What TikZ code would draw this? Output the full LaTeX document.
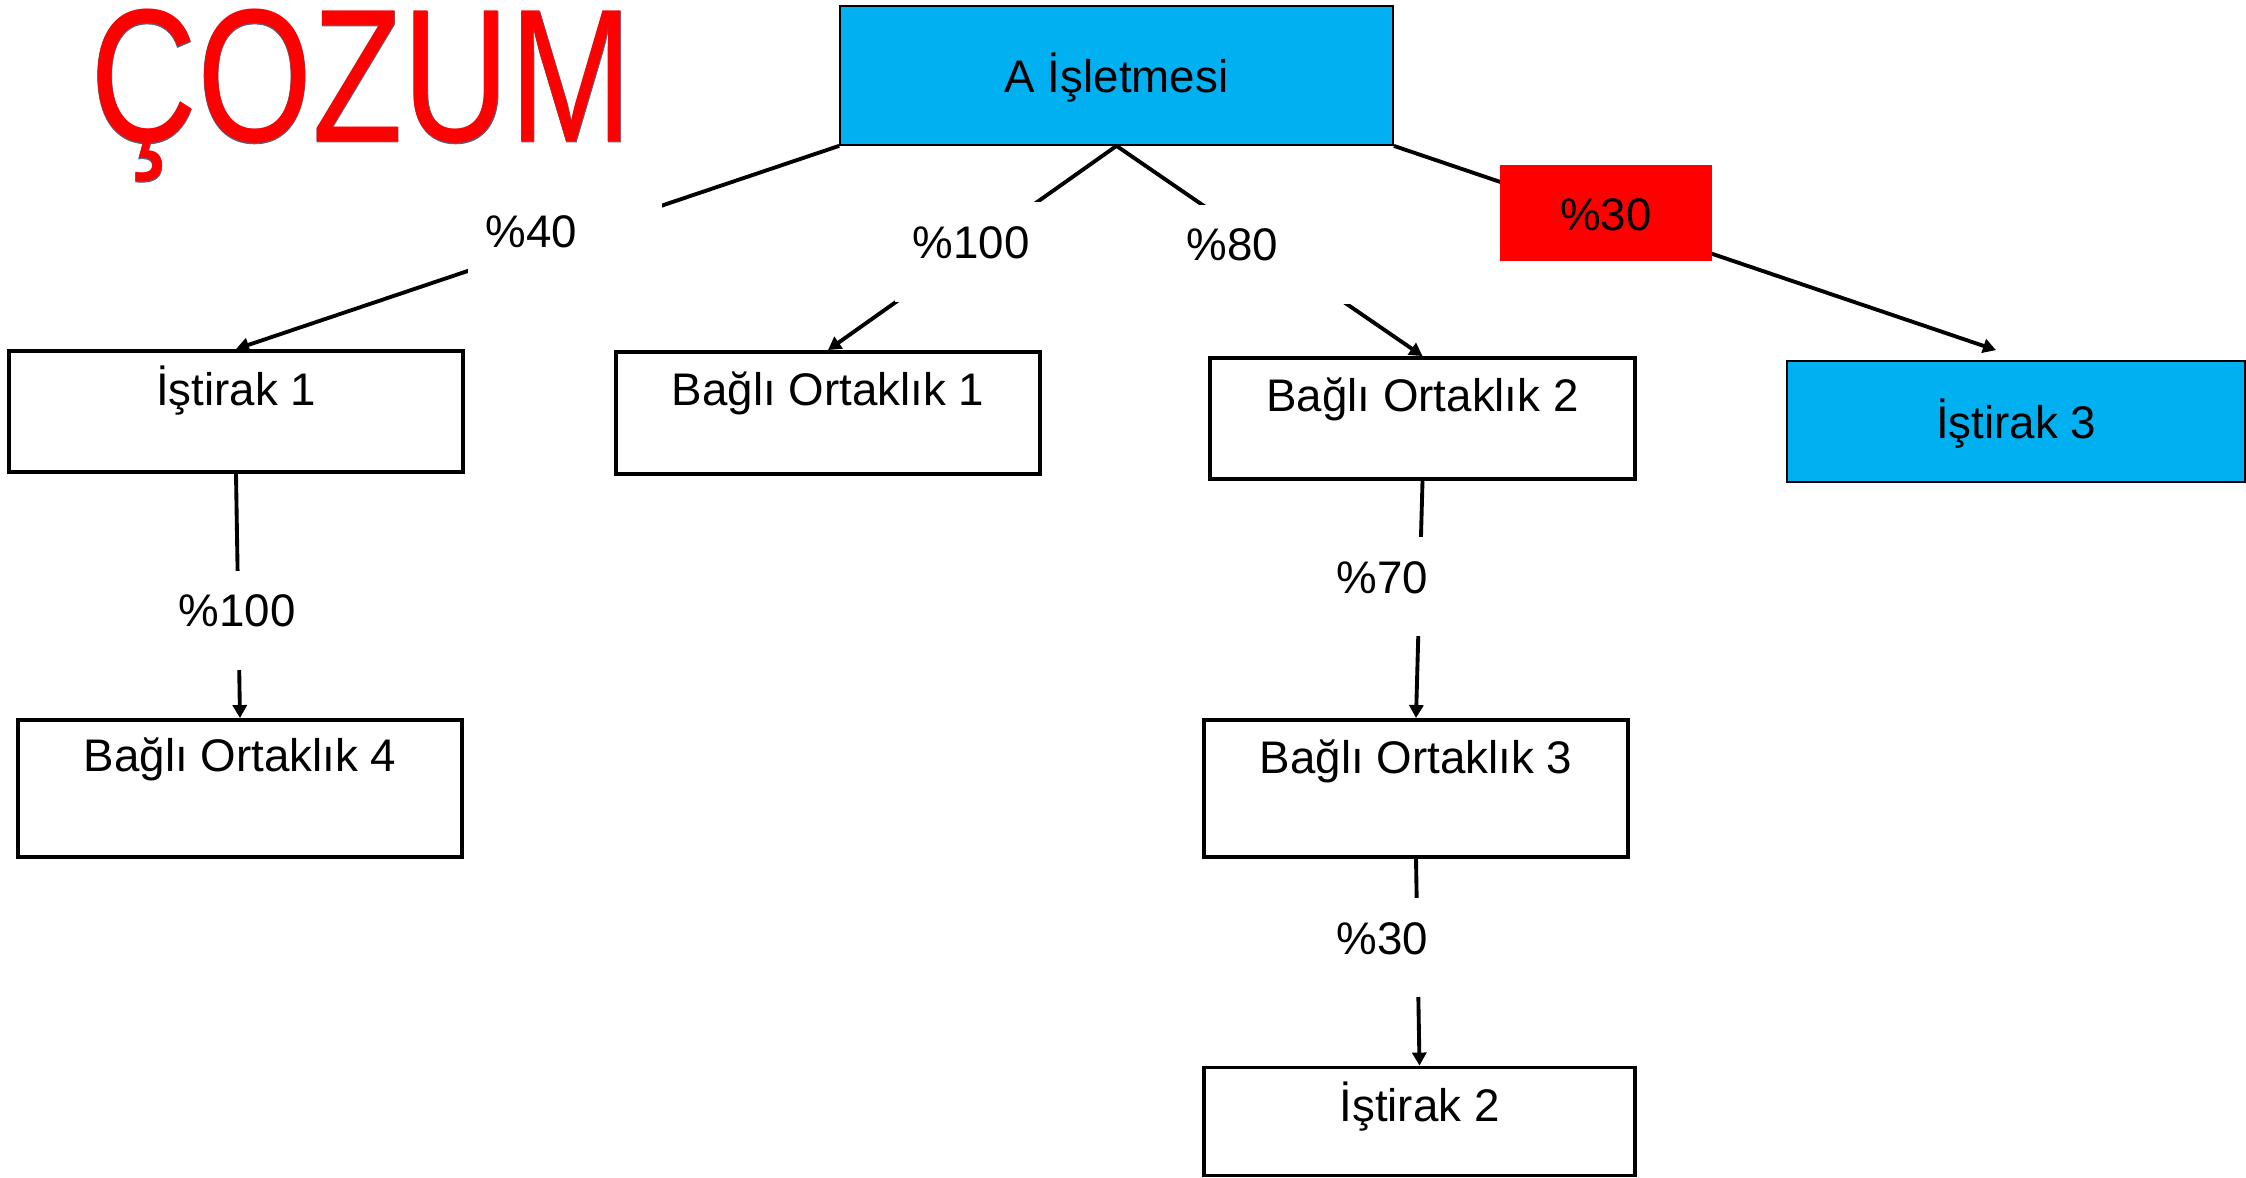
\documentclass[tikz,border=0pt]{standalone}
\usepackage{fontspec}
\setmainfont{Liberation Sans}
\newfontfamily\baslikkenarfont[FakeBold=0.45]{Liberation Sans}
\usetikzlibrary{arrows.meta}
\definecolor{acikmavi}{HTML}{00B0F0}
\definecolor{baslikkenar}{HTML}{55617A}
\tikzset{
  kutu/.style={draw, line width=1.1pt, inner xsep=0pt, inner ysep=0pt, font=\fontsize{13}{15}\selectfont},
  mavikutu/.style={kutu, fill=acikmavi, line width=0.5pt},
  oran/.style={fill=white, align=left, anchor=west, inner xsep=0.18cm, inner ysep=0pt, minimum height=0.99cm, text height=0.33cm, text depth=0.20cm, font=\fontsize{13}{15}\selectfont},
  bag/.style={line width=1.1pt},
  baslik/.style={anchor=base, inner sep=0pt, text height=1.37cm, text depth=0.38cm}
}

\begin{document}
\begin{tikzpicture}[>={Triangle[length=0.13cm,width=0.14cm]}]
\useasboundingbox (0,0) rectangle (22.46,-11.78);
% baslik (kenar + dolgu)
\node [baslik, text=baslikkenar, font=\baslikkenarfont\fontsize{54}{60}\selectfont] (baslikalt) at (3.615,-1.42) {\scalebox{0.78}[1]{ÇOZUM}};
\node [baslik, text=red, font=\fontsize{54}{60}\selectfont] (baslik) at (3.615,-1.42) {\scalebox{0.78}[1]{ÇOZUM}};
% kutular
\node [mavikutu, minimum width=5.53cm, text height=0.87cm, text depth=0.52cm] (A) at (11.165,-0.755) {A İşletmesi};
\node [kutu, minimum width=4.54cm, text height=0.54cm, text depth=0.67cm] (ist1) at (2.36,-4.115) {İştirak 1};
\node [kutu, minimum width=4.24cm, text height=0.53cm, text depth=0.69cm] (bo1) at (8.28,-4.13) {Bağlı Ortaklık 1};
\node [kutu, minimum width=4.25cm, text height=0.53cm, text depth=0.68cm] (bo2) at (14.225,-4.185) {Bağlı Ortaklık 2};
\node [mavikutu, minimum width=4.58cm, text height=0.77cm, text depth=0.44cm] (ist3) at (20.16,-4.215) {İştirak 3};
\node [kutu, minimum width=4.44cm, text height=0.51cm, text depth=0.86cm] (bo4) at (2.40,-7.885) {Bağlı Ortaklık 4};
\node [kutu, minimum width=4.24cm, text height=0.53cm, text depth=0.84cm] (bo3) at (14.16,-7.885) {Bağlı Ortaklık 3};
\node [kutu, minimum width=4.31cm, text height=0.54cm, text depth=0.54cm] (ist2) at (14.195,-11.215) {İştirak 2};
% oklar
\draw [bag,->] (A.south west) -- (ist1.north);
\draw [bag,->] (A.south) -- (bo1.north);
\draw [bag,->] (A.south) -- (bo2.north);
\draw [bag,->] (A.south east) -- ([xshift=-0.2cm,yshift=0.1cm]ist3.north);
\draw [bag,->] (ist1.south) -- (bo4.north);
\draw [bag,->] (bo2.south) -- (bo3.north);
\draw [bag,->] (bo3.south) -- (ist2.north);
% oranlar
\node [oran, text width=1.58cm] (p40) at (4.67,-2.41) {\%40};
\node [oran, text width=1.20cm] (p100a) at (8.94,-2.52) {\%100};
\node [oran, text width=1.48cm] (p80) at (11.68,-2.545) {\%80};
\node [oran, text width=1.24cm] (p100b) at (1.60,-6.20) {\%100};
\node [oran, text width=0.96cm] (p70) at (13.18,-5.865) {\%70};
\node [oran, text width=0.96cm] (p30b) at (13.18,-9.475) {\%30};
\node [fill=red, inner sep=0pt, minimum width=2.12cm, text height=0.65cm, text depth=0.31cm, font=\fontsize{13}{15}\selectfont] (p30a) at (16.06,-2.13) {\%30};
\end{tikzpicture}
\end{document}
